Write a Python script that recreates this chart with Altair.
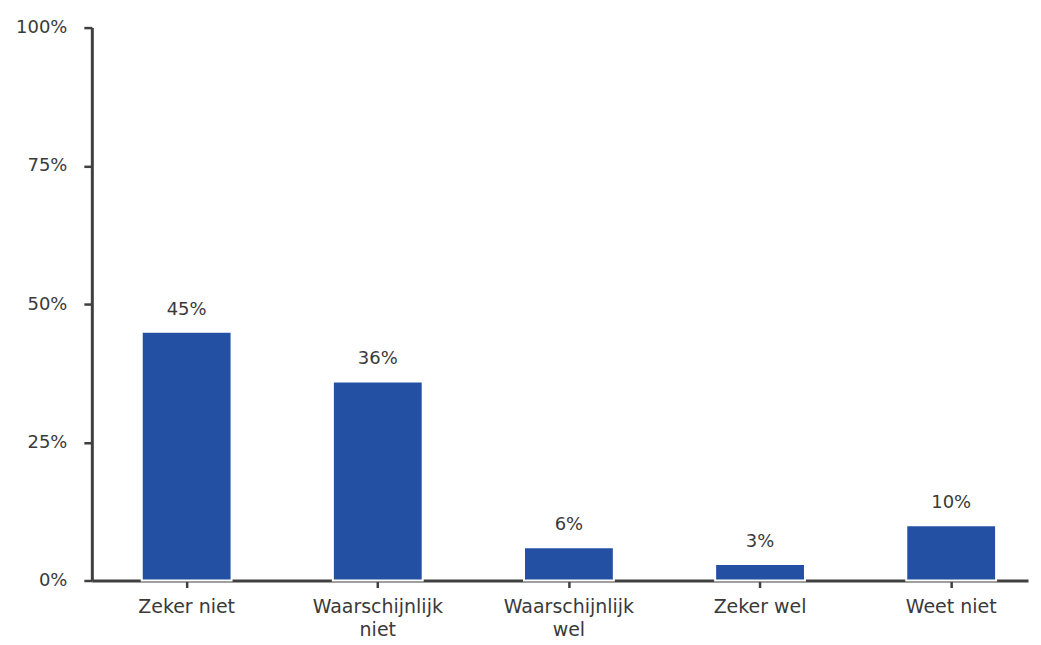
import altair as alt
import pandas as pd

categories = ["Zeker niet", "Waarschijnlijk niet", "Waarschijnlijk wel", "Zeker wel", "Weet niet"]
values = [45, 36, 6, 3, 10]
y_ticks = [0, 25, 50, 75, 100]

df = pd.DataFrame({
    "cat": categories,
    "val": values,
    "lbl": [f"{v}%" for v in values],
})

label_expr = ("{'Zeker niet':['Zeker niet'],'Waarschijnlijk niet':['Waarschijnlijk','niet'],"
              "'Waarschijnlijk wel':['Waarschijnlijk','wel'],'Zeker wel':['Zeker wel'],"
              "'Weet niet':['Weet niet']}[datum.value]")

FONT = "DejaVu Sans"
TXT = "#3a3a3a"
AX = "#404040"

x = alt.X("cat:N", sort=categories, title=None,
          scale=alt.Scale(paddingInner=0.53, paddingOuter=0.214, align=0.61),
          axis=alt.Axis(labelAngle=0, labelExpr=label_expr, labelFont=FONT, labelFontSize=19,
                        labelColor=TXT, labelPadding=10, labelLineHeight=23,
                        domainColor=AX, domainWidth=3, tickColor=AX, tickWidth=2.5, tickSize=7,
                        labelBaseline="top"))
y = alt.Y("val:Q", title=None,
          scale=alt.Scale(domain=[0, 100], nice=False),
          axis=alt.Axis(values=y_ticks, labelExpr="datum.value + '%'", grid=False,
                        labelFont=FONT, labelFontSize=18, labelColor=TXT, labelPadding=17,
                        domainColor=AX, domainWidth=3, tickColor=AX, tickWidth=2.5, tickSize=8))

bars = alt.Chart(df).mark_bar(color="#2350A3", stroke="white", strokeWidth=2).encode(x=x, y=y)
text = alt.Chart(df).mark_text(dy=-22, font=FONT, fontSize=18, color=TXT).encode(
    x=alt.X("cat:N", sort=categories), y="val:Q", text="lbl:N")

chart = (bars + text).properties(
    width=938, height=554,
    padding={"left": 84, "top": 19, "right": 5, "bottom": 64},
    autosize=alt.AutoSizeParams(type="none"),
).configure_view(stroke=None)

chart.save("out.html", embed_options={"renderer": "svg", "actions": False})
